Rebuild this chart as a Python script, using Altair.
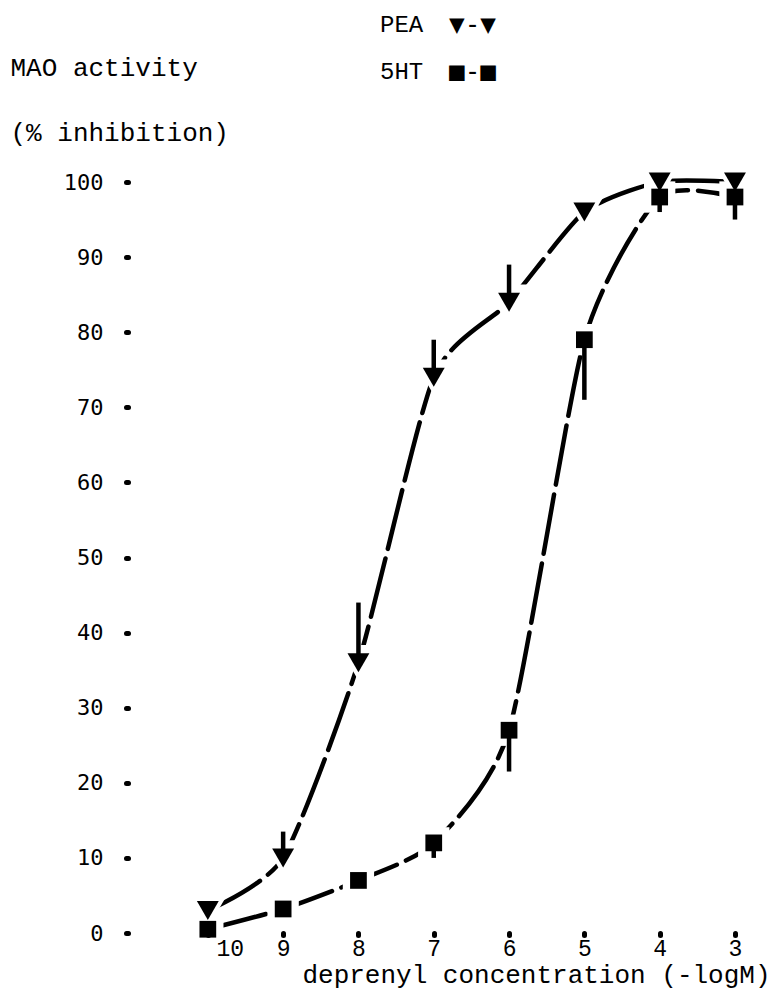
import altair as alt
import pandas as pd

# deprenyl concentration (-log M) and % inhibition of MAO activity
conc = [10, 9, 8, 7, 6, 5, 4, 3]
pea = [3, 10, 36, 74, 84, 96, 100, 100]
pea_err = [0, 3.5, 8, 5, 5, 0, 0, 0]
sht = [0.5, 3.2, 7, 12, 27, 79, 98, 98]
sht_err = [0, 0, 0, 2, 5.5, 8, 2, 3]

y_ticks = [0, 10, 20, 30, 40, 50, 60, 70, 80, 90, 100]
x_ticks = [10, 9, 8, 7, 6, 5, 4, 3]
series_names = ["PEA", "5HT"]
series_shapes = ["triangle-down", "square"]
legend_symbols = ["\u25bc-\u25bc", "\u25a0-\u25a0"]

rows = []
for c, v, e in zip(conc, pea, pea_err):
    rows.append(dict(conc=c, value=v, lo=v, hi=v + e, series="PEA"))
for c, v, e in zip(conc, sht, sht_err):
    rows.append(dict(conc=c, value=v, lo=v - e, hi=v, series="5HT"))
df = pd.DataFrame(rows)

W, H = 642, 751
MONO = "Liberation Mono"

x_axis = alt.Axis(
    values=x_ticks, domain=False, grid=False, zindex=1,
    tickSize=2, tickWidth=5, tickCap="round", tickColor="black",
    labelFont=MONO, labelFontSize=23, labelColor="black", labelPadding=2,
    labelOffset={"condition": {"test": "datum.value === 10", "value": 22}, "value": 0},
    format="d",
    title="deprenyl concentration (-logM)", titleFont=MONO, titleFontSize=26,
    titleFontWeight="normal", titleColor="black",
    titleX=W, titleAlign="right", titlePadding=1,
)
y_axis = alt.Axis(
    values=y_ticks, domain=False, grid=False,
    tickSize=2, tickWidth=5, tickCap="round", tickColor="black",
    labelFont="DejaVu Sans Mono", labelFontSize=22, labelColor="black",
    labelPadding=23,
    title=["MAO activity", "(% inhibition)"], titleFont=MONO, titleFontSize=26,
    titleFontWeight="normal", titleColor="black", titleAngle=0,
    titleAlign="left", titleBaseline="middle", titleX=-118, titleY=-115,
    titleLineHeight=65,
)

x_scale = alt.Scale(domain=[2.535, 11.06], reverse=True, nice=False, zero=False)
y_scale = alt.Scale(domain=[0, 100], nice=False, zero=False)
X = alt.X("conc:Q", scale=x_scale, axis=x_axis)
Y = alt.Y("value:Q", scale=y_scale, axis=y_axis)

base = alt.Chart(df)

curves = base.mark_line(color="black", strokeWidth=4.5, interpolate="cardinal", tension=0.35,
                        strokeDash=[60, 10], strokeCap="round").encode(
    x=X, y=Y, detail="series:N")

errs = base.mark_rule(color="black", strokeWidth=4.5).encode(
    x=X, y=alt.Y("lo:Q", scale=y_scale, axis=y_axis), y2="hi:Q")

# white halos open a small gap in the curve around each symbol
halos = []
symbols = []
for name, shp, sz in zip(series_names, series_shapes, [480, 280]):
    sub = base.transform_filter(alt.datum.series == name)
    halos.append(sub.mark_point(filled=True, color="white", opacity=1,
                                shape=shp, size=sz * 3.5).encode(x=X, y=Y))
    symbols.append(sub.mark_point(filled=True, color="black", opacity=1,
                                  shape=shp, size=sz).encode(x=X, y=Y))

leg_df = pd.DataFrame({"name": series_names, "sym": legend_symbols})
leg_layers = []
for i in range(len(series_names)):
    d = leg_df.iloc[[i]]
    leg_layers.append(alt.Chart(d).mark_text(font=MONO, fontSize=24, align="left",
                                             baseline="middle", color="black").encode(
        x=alt.value(252), y=alt.value(-157 + 47 * i), text="name:N"))
    leg_layers.append(alt.Chart(d).mark_text(font="DejaVu Sans Mono", fontSize=26, align="left",
                                             baseline="middle", color="black").encode(
        x=alt.value(321), y=alt.value(-157 + 47 * i), text="sym:N"))

chart = alt.layer(curves, *halos, errs, *symbols, *leg_layers).properties(
    width=W, height=H,
    autosize=alt.AutoSizeParams(type="none"),
    padding={"left": 128, "top": 182, "right": 3, "bottom": 65},
    background="white",
).configure_view(strokeWidth=0, stroke="transparent")

chart.save("out.html", embed_options={"renderer": "svg", "actions": False})
